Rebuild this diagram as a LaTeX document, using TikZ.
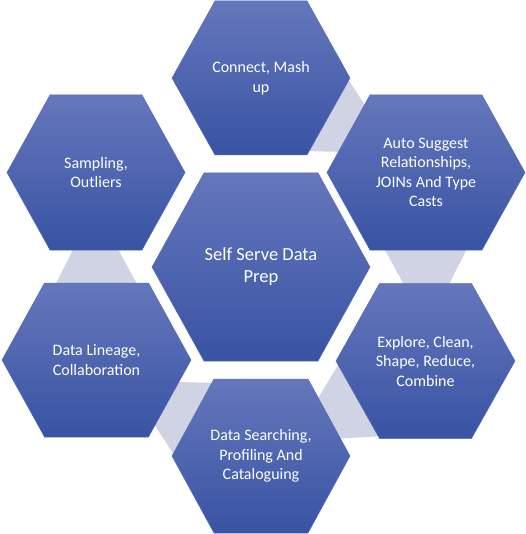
\documentclass[tikz,border=0pt]{standalone}
\usepackage{fontspec}
\setmainfont{Carlito}
\definecolor{hextop}{RGB}{101,119,188}
\definecolor{hexbottom}{RGB}{56,83,163}
\definecolor{hexedge}{RGB}{88,108,182}
\definecolor{linkgray}{RGB}{208,211,227}
\begin{document}
\begin{tikzpicture}[
    x=1pt, y=-1pt,
    hexfill/.style={top color=hextop, bottom color=hexbottom, draw=hexedge, line width=0.5pt},
    link/.style={fill=linkgray},
    hexlabel/.style={text=white, align=center, font=\fontsize{16}{19.5}\selectfont},
    hublabel/.style={hexlabel, font=\fontsize{18.5}{22}\selectfont}
  ]
  \useasboundingbox (0,0) rectangle (525,534);

  % Grey links between neighbouring cells (one trapezoid turned round the hub)
  \foreach \a in {60,0,-60,-120,180}
    \fill[link, rotate around={\a:(261,267)}]
      (380.6,242) -- (470.4,242) -- (445.6,291) -- (407.4,291) -- cycle;

  % Hexagon cells: centre x / centre y / half width / half top edge / half height
  \foreach \cx/\cy/\w/\t/\h in {261/78/89/46/77, 426/172.5/99/56/77.5,
      425.5/361/89.5/46/77.5, 261/456/89/47/77, 96.5/360/94.5/52/77,
      96/172.5/89/46/77.5, 261/267/109/57/94}
    \path[hexfill] (\cx-\w,\cy) -- (\cx-\t,\cy-\h) -- (\cx+\t,\cy-\h)
      -- (\cx+\w,\cy) -- (\cx+\t,\cy+\h) -- (\cx-\t,\cy+\h) -- cycle;

  % Labels
  \node[hublabel] (hub) at (261,267) {Self Serve Data\\Prep};
  \node[hexlabel] (connect) at (261,78) {Connect, Mash\\up};
  \node[hexlabel] (suggest) at (426,172.5) {Auto Suggest\\Relationships,\\JOINs And Type\\Casts};
  \node[hexlabel] (explore) at (425.5,361) {Explore, Clean,\\Shape, Reduce,\\Combine};
  \node[hexlabel] (search) at (261,456) {Data Searching,\\Profiling And\\Cataloguing};
  \node[hexlabel] (lineage) at (96.5,360) {Data Lineage,\\Collaboration};
  \node[hexlabel] (sampling) at (96,172.5) {Sampling,\\Outliers};

\end{tikzpicture}
\end{document}
